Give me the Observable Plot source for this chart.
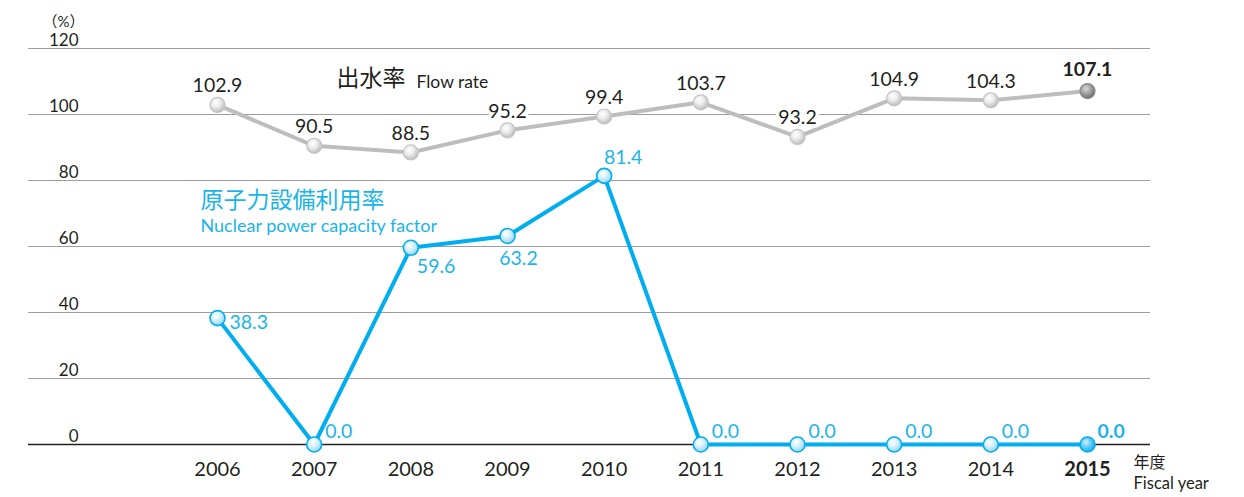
<!DOCTYPE html>
<html><head><meta charset="utf-8">
<script src="https://cdn.jsdelivr.net/npm/d3@7"></script>
<script src="https://cdn.jsdelivr.net/npm/@observablehq/plot@0.6"></script>
<style>
body{margin:0;background:#fff;}
#chart{width:1244px;height:497px;}
</style></head><body><div id="chart"></div>
<script>
const years = [2006, 2007, 2008, 2009, 2010, 2011, 2012, 2013, 2014, 2015];
const flowRate = [102.9, 90.5, 88.5, 95.2, 99.4, 103.7, 93.2, 104.9, 104.3, 107.1];
const nuclearRate = [38.3, 0.0, 59.6, 63.2, 81.4, 0.0, 0.0, 0.0, 0.0, 0.0];
const yTicks = [0, 20, 40, 60, 80, 100, 120];
const flowTitleJa = "出水率";
const flowTitleEn = "Flow rate";
const nuclearTitleJa = "原子力設備利用率";
const nuclearTitleEn = "Nuclear power capacity factor";
const unitLabel = "（%）";
const xUnitJa = "年度";
const xUnitEn = "Fiscal year";

const lastYear = years[years.length - 1];
const flow = years.map((year, i) => ({year, value: flowRate[i]}));
const nuclear = years.map((year, i) => ({year, value: nuclearRate[i]}));
const fmt = d => d.value.toFixed(1);
const pick = (arr, ys) => arr.filter(d => ys.includes(d.year));

const FONT = "Lato, 'Noto Sans CJK JP', sans-serif";
const DARK = "#231f20";
const CYAN = "#00aeef";
const CYAN_TEXT = "#1ab4ea";

const svg = Plot.plot({
  width: 1244,
  height: 497,
  marginLeft: 28,
  marginRight: 94,
  marginTop: 48,
  marginBottom: 53,
  style: {fontFamily: FONT, background: "#fff", overflow: "visible"},
  x: {domain: [2006, 2015], range: [217, 1087], axis: null},
  y: {domain: [0, 120], axis: null},
  marks: [
    Plot.ruleY(yTicks.filter(v => v > 0), {stroke: "#9d9d9d", strokeWidth: 1.2}),
    Plot.ruleY([0], {stroke: DARK, strokeWidth: 1.3}),
    // y tick labels
    Plot.text(yTicks, {y: d => d, text: d => String(d), frameAnchor: "left", textAnchor: "end", dx: 50, dy: -8, fontSize: 17, fill: DARK}),
    Plot.text([unitLabel], {frameAnchor: "top-left", textAnchor: "start", dx: 14, dy: -32, fontSize: 15, fill: DARK}),
    // x labels
    Plot.text(years.filter(y => y !== lastYear), {x: d => d, text: d => String(d), frameAnchor: "bottom", dy: 31, fontSize: 20, fill: DARK}),
    Plot.text([lastYear], {x: d => d, text: d => String(d), frameAnchor: "bottom", dy: 31, fontSize: 20, fontWeight: "bold", fill: DARK}),
    Plot.text([xUnitJa], {frameAnchor: "bottom-right", textAnchor: "start", dx: -17, dy: 23, fontSize: 16, fill: DARK}),
    Plot.text([xUnitEn], {frameAnchor: "bottom-right", textAnchor: "start", dx: -17, dy: 44, fontSize: 16.5, fill: DARK}),
    // titles
    Plot.text([flowTitleJa], {frameAnchor: "top-left", textAnchor: "start", dx: 308, dy: 21, fontSize: 23, fill: DARK}),
    Plot.text([flowTitleEn], {frameAnchor: "top-left", textAnchor: "start", dx: 388, dy: 27, fontSize: 17.5, fill: DARK}),
    Plot.text([nuclearTitleJa], {frameAnchor: "top-left", textAnchor: "start", dx: 172, dy: 143, fontSize: 23, fill: CYAN_TEXT}),
    Plot.text([nuclearTitleEn], {frameAnchor: "top-left", textAnchor: "start", dx: 172, dy: 171, fontSize: 18, fill: CYAN_TEXT}),
    // flow rate series
    Plot.line(flow, {x: "year", y: "value", stroke: "#bdbdbd", strokeWidth: 4}),
    Plot.dot(flow.filter(d => d.year !== lastYear), {x: "year", y: "value", r: 7.5, fill: "url(#gGrey)", stroke: "#c4c4c4", strokeWidth: 1.2}),
    Plot.dot(pick(flow, [lastYear]), {x: "year", y: "value", r: 7.5, fill: "url(#gGreyDark)", stroke: "#8a8a8a", strokeWidth: 1.2}),
    Plot.text(flow.filter(d => d.year !== lastYear), {x: "year", y: "value", text: fmt, dy: -19, fontSize: 19.5, fill: DARK, stroke: "white", strokeWidth: 7}),
    Plot.text(pick(flow, [lastYear]), {x: "year", y: "value", text: fmt, dy: -21, fontSize: 19.5, fontWeight: "bold", fill: DARK, stroke: "white", strokeWidth: 7}),
    // nuclear series
    Plot.line(nuclear, {x: "year", y: "value", stroke: CYAN, strokeWidth: 4}),
    Plot.dot(nuclear.filter(d => d.year !== lastYear), {x: "year", y: "value", r: 7.5, fill: "url(#gBlue)", stroke: CYAN, strokeWidth: 1.6}),
    Plot.dot(pick(nuclear, [lastYear]), {x: "year", y: "value", r: 7.5, fill: "url(#gBlueDark)", stroke: CYAN, strokeWidth: 1.6}),
    Plot.text(pick(nuclear, [2006]), {x: "year", y: "value", text: fmt, textAnchor: "start", dx: 12, dy: 5, fontSize: 19.5, fill: CYAN_TEXT}),
    Plot.text(pick(nuclear, [2008]), {x: "year", y: "value", text: fmt, textAnchor: "start", dx: 6, dy: 19, fontSize: 19.5, fill: CYAN_TEXT}),
    Plot.text(pick(nuclear, [2009]), {x: "year", y: "value", text: fmt, dx: 11, dy: 23, fontSize: 19.5, fill: CYAN_TEXT}),
    Plot.text(pick(nuclear, [2010]), {x: "year", y: "value", text: fmt, dx: 19, dy: -18, fontSize: 19.5, fill: CYAN_TEXT}),
    Plot.text(pick(nuclear, [2007, 2011, 2012, 2013, 2014]), {x: "year", y: "value", text: fmt, textAnchor: "start", dx: 11, dy: -13, fontSize: 19.5, fill: CYAN_TEXT}),
    Plot.text(pick(nuclear, [lastYear]), {x: "year", y: "value", text: fmt, textAnchor: "start", dx: 10, dy: -13, fontSize: 19.5, fontWeight: "bold", fill: CYAN_TEXT})
  ]
});

const defs = d3.select(svg).insert("defs", ":first-child");
function grad(id, stops) {
  const g = defs.append("radialGradient").attr("id", id).attr("cx", "40%").attr("cy", "35%").attr("r", "65%");
  stops.forEach(([o, c]) => g.append("stop").attr("offset", o).attr("stop-color", c));
}
grad("gGrey", [["0%", "#ffffff"], ["45%", "#ececec"], ["100%", "#bcbcbc"]]);
grad("gGreyDark", [["0%", "#d8d8d8"], ["45%", "#a8a8a8"], ["100%", "#6e6e6e"]]);
grad("gBlue", [["0%", "#ffffff"], ["45%", "#d9f1fc"], ["100%", "#93d6f5"]]);
grad("gBlueDark", [["0%", "#d6f2fd"], ["45%", "#6dcff5"], ["100%", "#19b0ec"]]);

document.getElementById("chart").appendChild(svg);
</script>
</body></html>
